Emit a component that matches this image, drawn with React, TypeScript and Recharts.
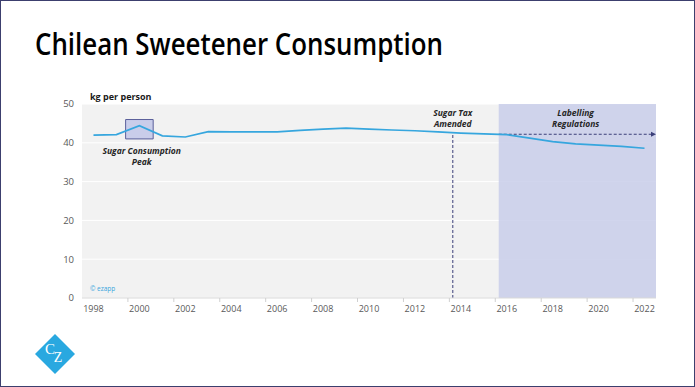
import {
  CartesianGrid,
  Line,
  LineChart,
  ReferenceArea,
  ReferenceDot,
  ReferenceLine,
  XAxis,
  YAxis,
} from 'recharts'

const years = [
  1998, 1999, 2000, 2001, 2002, 2003, 2004, 2005, 2006, 2007, 2008, 2009, 2010,
  2011, 2012, 2013, 2014, 2015, 2016, 2017, 2018, 2019, 2020, 2021, 2022,
]
const kgPerPerson = [
  42.0, 42.1, 44.4, 41.8, 41.5, 42.9, 42.8, 42.8, 42.8, 43.2, 43.5, 43.8, 43.5,
  43.3, 43.1, 42.8, 42.5, 42.3, 42.1, 41.2, 40.3, 39.7, 39.4, 39.1, 38.6,
]
const yTicks = [0, 10, 20, 30, 40, 50]
// labels on even years, tick marks halfway between categories
const xTicks = [
  1998, 1999.5, 2000, 2001.5, 2002, 2003.5, 2004, 2005.5, 2006, 2007.5, 2008,
  2009.5, 2010, 2011.5, 2012, 2013.5, 2014, 2015.5, 2016, 2017.5, 2018, 2019.5,
  2020, 2021.5, 2022,
]

const taxYear = 2013.65
const taxLevel = 42.6
const labellingStart = 2015.65
const labellingLevel = 42.2
const peakBox = { x1: 1999.4, x2: 2000.6, y1: 41, y2: 46 }

const data = years.map((y, i) => ({ year: y, value: kgPerPerson[i] }))

const NAVY = '#3b3f7a'
const BLUE = '#36a6de'
const FONT = '"Open Sans", "Noto Sans", sans-serif'

function XTick(props: any) {
  const { x, y, payload } = props
  const v = payload.value as number
  if (Number.isInteger(v)) {
    return (
      <text x={x} y={y} dy="0.71em" textAnchor="middle" fontSize={9} fill="#595959" fontFamily={FONT}>
        {v}
      </text>
    )
  }
  return <line x1={x} x2={x} y1={y - 8} y2={y - 4} stroke="#d0d0d0" />
}

function note(lines: string[]) {
  return (props: any) => {
    const { viewBox } = props
    const cx = viewBox.x + (viewBox.width || 0) / 2
    const cy = viewBox.y + (viewBox.height || 0) / 2
    return (
      <text x={cx} y={cy} textAnchor="middle" fontSize={8.5} fontWeight={700} fontStyle="italic" fill="#262626" fontFamily={FONT}>
        {lines.map((l, i) => (
          <tspan key={l} x={cx} dy={i === 0 ? '0.35em' : 11}>
            {l}
          </tspan>
        ))}
      </text>
    )
  }
}

function ArrowLine(props: any) {
  const { x1, y1, x2, y2 } = props
  return (
    <g>
      <line x1={x1} y1={y1} x2={x2 - 4} y2={y2} stroke={NAVY} strokeDasharray="3 2" strokeWidth={1} />
      <polygon points={`${x2},${y2} ${x2 - 5},${y2 - 2.5} ${x2 - 5},${y2 + 2.5}`} fill={NAVY} />
    </g>
  )
}

function Logo() {
  return (
    <svg width={40} height={40} style={{ position: 'absolute', left: 34, top: 333 }}>
      <polygon points="20,0 40,20 20,40 0,20" fill="#29a8e0" />
      <text x={15} y={20} fontSize={15} fill="#fff" fontFamily="'Liberation Serif', serif" textAnchor="middle">
        C
      </text>
      <text x={23} y={28} fontSize={14} fill="#fff" fontFamily="'Liberation Serif', serif" textAnchor="middle">
        Z
      </text>
    </svg>
  )
}

export default function App() {
  return (
    <div
      style={{
        position: 'absolute',
        left: 0,
        top: 0,
        width: 695,
        height: 387,
        boxSizing: 'border-box',
        border: '1px solid #3c3f6e',
        background: '#fff',
        overflow: 'hidden',
      }}
    >
      <svg width={695} height={70} style={{ position: 'absolute', left: -1, top: -1 }}>
        <text x={35} y={55} fontSize={30} fontWeight={600} fill="#000" fontFamily={FONT} textLength={408} lengthAdjust="spacingAndGlyphs">
          Chilean Sweetener Consumption
        </text>
      </svg>
      <div
        style={{
          position: 'absolute',
          left: 89,
          top: 91,
          fontSize: 9,
          lineHeight: '10px',
          fontWeight: 700,
          fontFamily: FONT,
          color: '#1a1a1a',
        }}
      >
        kg per person
      </div>
      <div style={{ position: 'absolute', left: -1, top: -1 }}>
        <LineChart width={695} height={387} data={data} margin={{ top: 104, right: 39, bottom: 59, left: 52 }}>
          <CartesianGrid vertical={false} stroke="#ffffff" fill="#f2f2f2" />
          <ReferenceArea x1={labellingStart} x2={2022.5} y1={0} y2={50} fill="#c5cae8" fillOpacity={0.8} stroke="none" ifOverflow="visible" />
          <XAxis
            dataKey="year"
            type="number"
            domain={[1997.5, 2022.5]}
            ticks={xTicks}
            interval={0}
            tick={<XTick />}
            tickLine={false}
            tickSize={4}
            tickMargin={4}
            stroke="#d9d9d9"
            height={30}
          />
          <YAxis
            domain={[0, 50]}
            ticks={yTicks}
            axisLine={false}
            tickLine={false}
            width={30}
            tick={{ fontSize: 9.5, fill: '#595959', fontFamily: FONT }}
          />
          <ReferenceArea
            x1={peakBox.x1}
            x2={peakBox.x2}
            y1={peakBox.y1}
            y2={peakBox.y2}
            fill="#c9cdea"
            fillOpacity={1}
            stroke="#5a5f9a"
            strokeWidth={1}
          />
          <ReferenceLine
            segment={[
              { x: taxYear, y: 0 },
              { x: taxYear, y: taxLevel },
            ]}
            stroke={NAVY}
            strokeDasharray="3 2"
          />
          <ReferenceLine
            segment={[
              { x: labellingStart, y: labellingLevel },
              { x: 2022.5, y: labellingLevel },
            ]}
            shape={<ArrowLine />}
            ifOverflow="visible"
          />
          <Line dataKey="value" type="linear" stroke={BLUE} strokeWidth={1.7} dot={false} isAnimationActive={false} />
          <ReferenceDot x={taxYear} y={47.7} r={0} fill="none" stroke="none" label={note(['Sugar Tax', 'Amended'])} />
          <ReferenceDot x={2019} y={47.7} r={0} fill="none" stroke="none" label={note(['Labelling', 'Regulations'])} />
          <ReferenceDot x={2000.1} y={37.9} r={0} fill="none" stroke="none" label={note(['Sugar Consumption', 'Peak'])} />
          <ReferenceDot
            x={1998.4}
            y={2.4}
            r={0}
            fill="none"
            stroke="none"
            label={{ value: '© ezapp', fontSize: 6.5, fill: '#3aa6dd', fontFamily: FONT, position: 'center' }}
          />
        </LineChart>
      </div>
      <Logo />
    </div>
  )
}
